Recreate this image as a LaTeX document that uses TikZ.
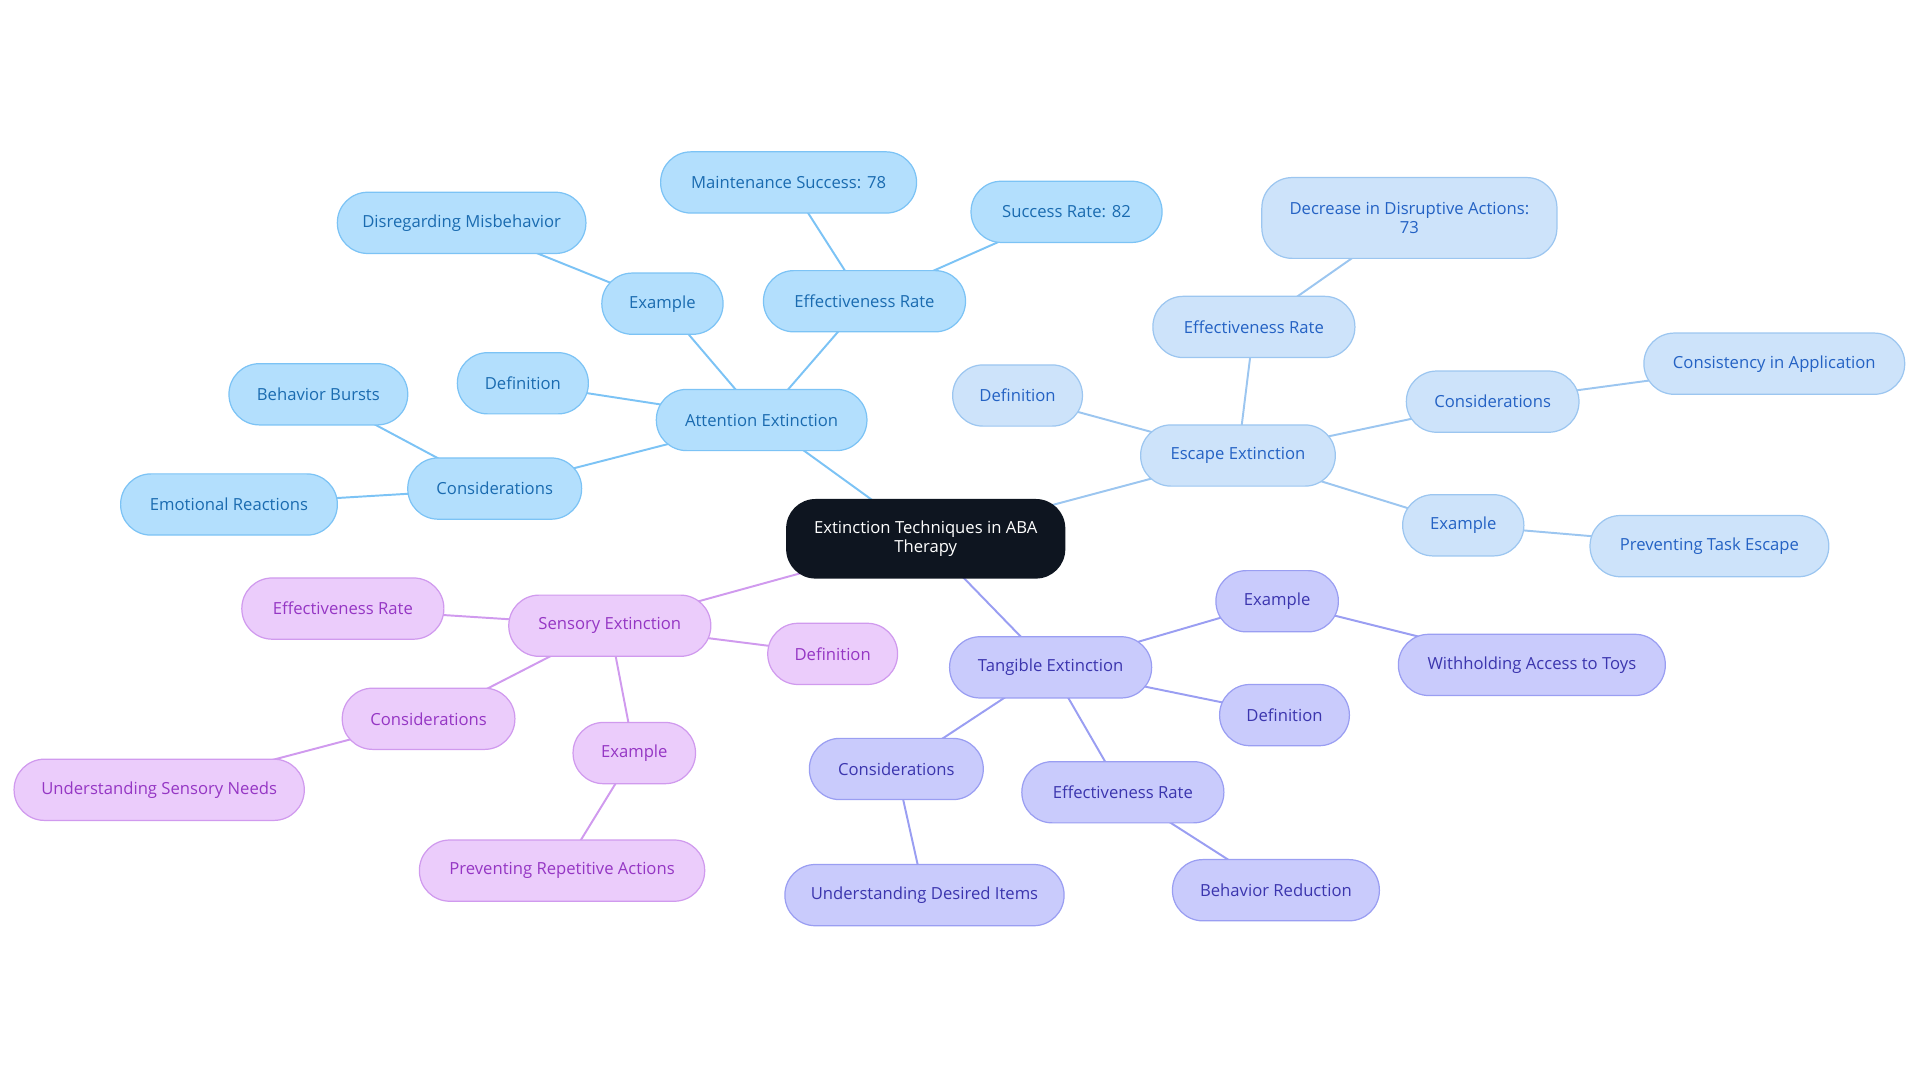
\documentclass[tikz,border=0pt]{standalone}
\usepackage{fontspec}
\setmainfont{Open Sans}
\usetikzlibrary{backgrounds}
\definecolor{aF}{HTML}{B3DFFD}\definecolor{aD}{HTML}{7CC3F5}\definecolor{aT}{HTML}{1A6BB0}
\definecolor{eF}{HTML}{CDE3FA}\definecolor{eD}{HTML}{9CC6F0}\definecolor{eT}{HTML}{2462C4}
\definecolor{tF}{HTML}{C9CBFC}\definecolor{tD}{HTML}{9A9EF2}\definecolor{tT}{HTML}{3B35AE}
\definecolor{sF}{HTML}{EBCCFB}\definecolor{sD}{HTML}{D09AEE}\definecolor{sT}{HTML}{9536C4}
\definecolor{cF}{HTML}{0E1520}
\tikzset{
 bx/.style={rounded corners=12.4pt,minimum height=25pt,inner sep=1pt,font=\fontsize{6.8}{7.6}\selectfont,line width=0.5pt,align=center},
 an/.style={bx,fill=aF,draw=aD,text=aT},
 en/.style={bx,fill=eF,draw=eD,text=eT},
 tn/.style={bx,fill=tF,draw=tD,text=tT},
 sn/.style={bx,fill=sF,draw=sD,text=sT},
 ae/.style={draw=aD,line width=0.8pt},
 ee/.style={draw=eD,line width=0.8pt},
 te/.style={draw=tD,line width=0.8pt},
 se/.style={draw=sD,line width=0.8pt},
}
\begin{document}
\begin{tikzpicture}[x=0.5pt,y=-0.5pt]
\useasboundingbox (0,0) rectangle (1568,884);
\node[bx,fill=cF,text=white,minimum width=114pt,minimum height=32.5pt,rounded corners=12pt] (c) at (756,440) {Extinction Techniques in ABA\\Therapy};
% attention
\node[an,minimum width=86pt] (a) at (622,343) {Attention Extinction};
\node[an,minimum width=53.5pt] (ad) at (427,313) {Definition};
\node[an,minimum width=49.5pt] (ax) at (541,248) {Example};
\node[an,minimum width=101.5pt] (ax1) at (377,182) {Disregarding Misbehavior};
\node[an,minimum width=82.5pt] (ar) at (706,246) {Effectiveness Rate};
\node[an,minimum width=104.5pt] (ar1) at (644,149) {Maintenance Success: 78};
\node[an,minimum width=78pt] (ar2) at (871,173) {Success Rate: 82};
\node[an,minimum width=71pt] (ac) at (404,399) {Considerations};
\node[an,minimum width=73pt] (ac1) at (260,322) {Behavior Bursts};
\node[an,minimum width=88.5pt] (ac2) at (187,412) {Emotional Reactions};
% escape
\node[en,minimum width=79.5pt] (e) at (1011,372) {Escape Extinction};
\node[en,minimum width=53pt] (ed) at (831,323) {Definition};
\node[en,minimum width=82.5pt] (er) at (1024,267) {Effectiveness Rate};
\node[en,minimum width=120.5pt,minimum height=33pt] (er1) at (1151,178) {Decrease in Disruptive Actions:\\73};
\node[en,minimum width=70.5pt] (ec) at (1219,328) {Considerations};
\node[en,minimum width=106.5pt] (ec1) at (1449,297) {Consistency in Application};
\node[en,minimum width=49.5pt] (ex) at (1195,429) {Example};
\node[en,minimum width=97.5pt] (ex1) at (1396,446) {Preventing Task Escape};
% tangible
\node[tn,minimum width=82.5pt] (t) at (858,545) {Tangible Extinction};
\node[tn,minimum width=50pt] (tx) at (1043,491) {Example};
\node[tn,minimum width=109pt] (tx1) at (1251,543) {Withholding Access to Toys};
\node[tn,minimum width=53pt] (td) at (1049,584) {Definition};
\node[tn,minimum width=71pt] (tc) at (732,628) {Considerations};
\node[tn,minimum width=114pt] (tc1) at (755,731) {Understanding Desired Items};
\node[tn,minimum width=82.5pt] (tr) at (917,647) {Effectiveness Rate};
\node[tn,minimum width=84.5pt] (tr1) at (1042,727) {Behavior Reduction};
% sensory
\node[sn,minimum width=82.5pt] (s) at (498,511) {Sensory Extinction};
\node[sn,minimum width=82.5pt] (sr) at (280,497) {Effectiveness Rate};
\node[sn,minimum width=53pt] (sd) at (680,534) {Definition};
\node[sn,minimum width=70.5pt] (sc) at (350,587) {Considerations};
\node[sn,minimum width=118.5pt] (sc1) at (130,645) {Understanding Sensory Needs};
\node[sn,minimum width=50pt] (sx) at (518,615) {Example};
\node[sn,minimum width=116.5pt] (sx1) at (459,711) {Preventing Repetitive Actions};
\begin{pgfonlayer}{background}
\draw[ae] (c.center)--(a.center) (a.center)--(ad.center) (a.center)--(ax.center) (ax.center)--(ax1.center) (a.center)--(ar.center) (ar.center)--(ar1.center) (ar.center)--(ar2.center) (a.center)--(ac.center) (ac.center)--(ac1.center) (ac.center)--(ac2.center);
\draw[ee] (c.center)--(e.center) (e.center)--(ed.center) (e.center)--(er.center) (er.center)--(er1.center) (e.center)--(ec.center) (ec.center)--(ec1.center) (e.center)--(ex.center) (ex.center)--(ex1.center);
\draw[te] (c.center)--(t.center) (t.center)--(tx.center) (tx.center)--(tx1.center) (t.center)--(td.center) (t.center)--(tc.center) (tc.center)--(tc1.center) (t.center)--(tr.center) (tr.center)--(tr1.center);
\draw[se] (c.center)--(s.center) (s.center)--(sr.center) (s.center)--(sd.center) (s.center)--(sc.center) (sc.center)--(sc1.center) (s.center)--(sx.center) (sx.center)--(sx1.center);
\end{pgfonlayer}
\end{tikzpicture}
\end{document}
